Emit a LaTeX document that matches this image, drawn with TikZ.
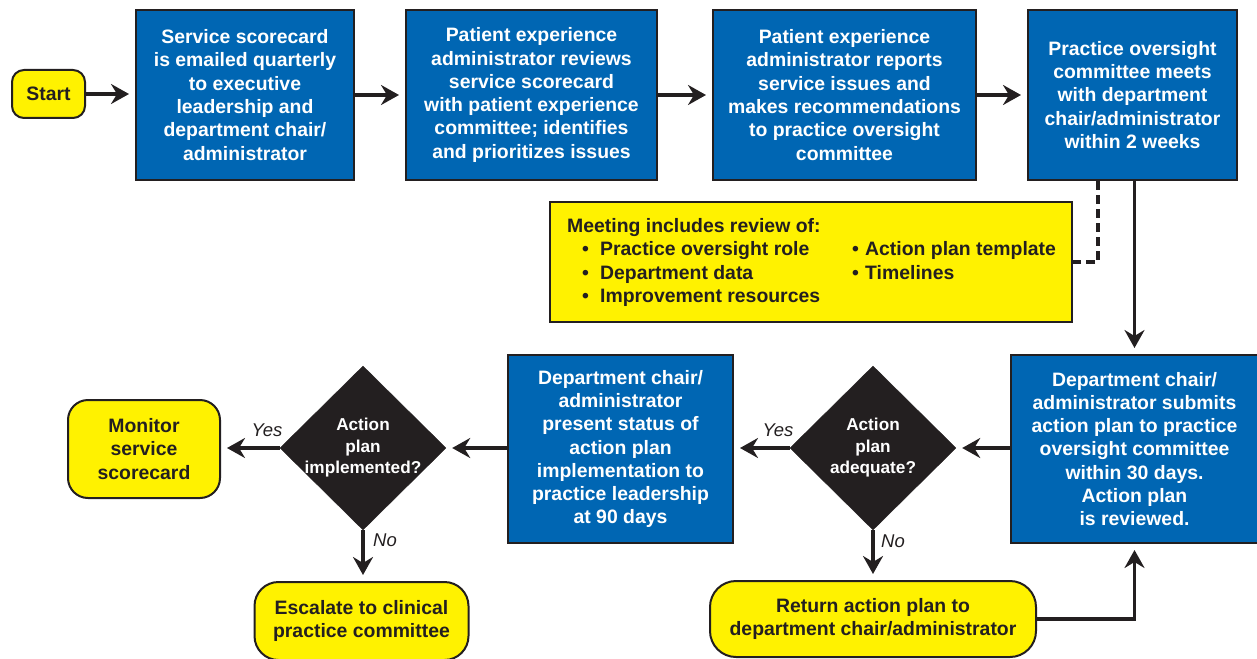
\documentclass[tikz,border=0pt]{standalone}
\usepackage{fontspec}
\setmainfont{Liberation Sans}
\usetikzlibrary{arrows.meta,shapes.geometric}
\definecolor{pblue}{RGB}{0,102,179}
\definecolor{pyellow}{RGB}{255,242,0}
\definecolor{pdark}{RGB}{35,31,32}
\begin{document}
\begin{tikzpicture}[x=1pt,y=-1pt,
  txt/.style={font=\fontsize{19.4}{23.3}\selectfont\bfseries, align=center, inner sep=0pt},
  box/.style={txt, draw=pdark, line width=2pt, fill=pblue, text=white},
  term/.style={txt, draw=pdark, line width=2pt, fill=pyellow, text=pdark},
  dec/.style={diamond, draw=pdark, fill=pdark, minimum width=166pt, minimum height=164pt, inner sep=0pt},
  dtext/.style={text=white, font=\fontsize{17.2}{21.5}\selectfont\bfseries, align=center, inner sep=0pt},
  arr/.style={draw=pdark, line width=3.8pt, -{Stealth[length=18pt,width=20pt,inset=6pt]}, shorten >=6pt},
  dline/.style={draw=pdark, line width=3.8pt, dash pattern=on 9pt off 5pt},
  lab/.style={font=\fontsize{18.5}{20}\selectfont\itshape, text=pdark, inner sep=0pt}]
\useasboundingbox (0,0) rectangle (1257,658);

% top row
\node[term, rounded corners=12pt, minimum width=73pt, minimum height=48pt] (start) at (48.5,94) {Start};
\node[box, minimum width=218pt, minimum height=170pt] (b1) at (245,95)
  {Service scorecard\\is emailed quarterly\\to executive\\leadership and\\department chair/\\administrator};
\node[box, minimum width=251pt, minimum height=170pt] (b2) at (531.5,95)
  {Patient experience\\administrator reviews\\service scorecard\\with patient experience\\committee; identifies\\and prioritizes issues};
\node[box, minimum width=263pt, minimum height=170pt] (b3) at (844.5,95)
  {Patient experience\\administrator reports\\service issues and\\makes recommendations\\to practice oversight\\committee};
\node[box, minimum width=209pt, minimum height=170pt] (b4) at (1132.5,95)
  {Practice oversight\\committee meets\\with department\\chair/administrator\\within 2 weeks};

% meeting box
\node[draw=pdark, line width=2pt, fill=pyellow, minimum width=522pt, minimum height=120pt, inner sep=0pt] (meet) at (811,262) {};
\node[txt, text=pdark, align=left, anchor=north west] (meettext) at (567,216)
  {\begin{tabular}{@{}p{285pt}@{}l@{}}
   \multicolumn{2}{@{}l}{Meeting includes review of:}\\
   \hspace*{15pt}\makebox[18pt][l]{•}Practice oversight role & \makebox[13pt][l]{•}Action plan template\\
   \hspace*{15pt}\makebox[18pt][l]{•}Department data & \makebox[13pt][l]{•}Timelines\\
   \hspace*{15pt}\makebox[18pt][l]{•}Improvement resources & \\
   \end{tabular}};

% second row
\node[box, minimum width=247pt, minimum height=188pt] (b5) at (1134.5,449)
  {Department chair/\\administrator submits\\action plan to practice\\oversight committee\\within 30 days.\\Action plan\\is reviewed.};
\node[dec, label={[dtext]center:{Action\\plan\\adequate?}}] (d1) at (873,448) {};
\node[box, minimum width=225pt, minimum height=188pt] (b6) at (620.5,449)
  {Department chair/\\administrator\\present status of\\action plan\\implementation to\\practice leadership\\at 90 days};
\node[dec, label={[dtext]center:{Action\\plan\\implemented?}}] (d2) at (363,448) {};
\node[term, rounded corners=20pt, minimum width=152pt, minimum height=98pt] (mon) at (144,449)
  {Monitor\\service\\scorecard};

% bottom row
\node[term, rounded corners=24pt, minimum width=214pt, minimum height=78pt] (esc) at (361.5,621)
  {Escalate to clinical\\practice committee};
\node[term, rounded corners=26pt, minimum width=326pt, minimum height=76pt] (ret) at (873,619)
  {Return action plan to\\department chair/administrator};

% connectors
\draw[arr] (start.east) -- (start.east -| b1.west);
\draw[arr] (b1.east) -- (b2.west);
\draw[arr] (b2.east) -- (b3.west);
\draw[arr] (b3.east) -- (b4.west);
\draw[dline] ([xshift=-34.5pt]b4.south) |- (meet.east);
\draw[arr] (b4.south -| b5.north) -- (b5.north);
\draw[arr] (d1.east -| b5.west) -- (d1.east);
\draw[arr] (d1.west) -- (d1.west -| b6.east);
\draw[arr] (d1.south) -- (ret.north);
\draw[arr] (ret.east) -| (b5.south);
\draw[arr] (d2.east -| b6.west) -- (d2.east);
\draw[arr] (d2.west) -- (d2.west -| mon.east);
\draw[arr] (d2.south) -- (d2.south |- esc.north);

% branch labels
\node[lab] (y1) at (778,430) {Yes};
\node[lab] (n1) at (893,541) {No};
\node[lab] (y2) at (267,430) {Yes};
\node[lab] (n2) at (385,540) {No};
\end{tikzpicture}
\end{document}
